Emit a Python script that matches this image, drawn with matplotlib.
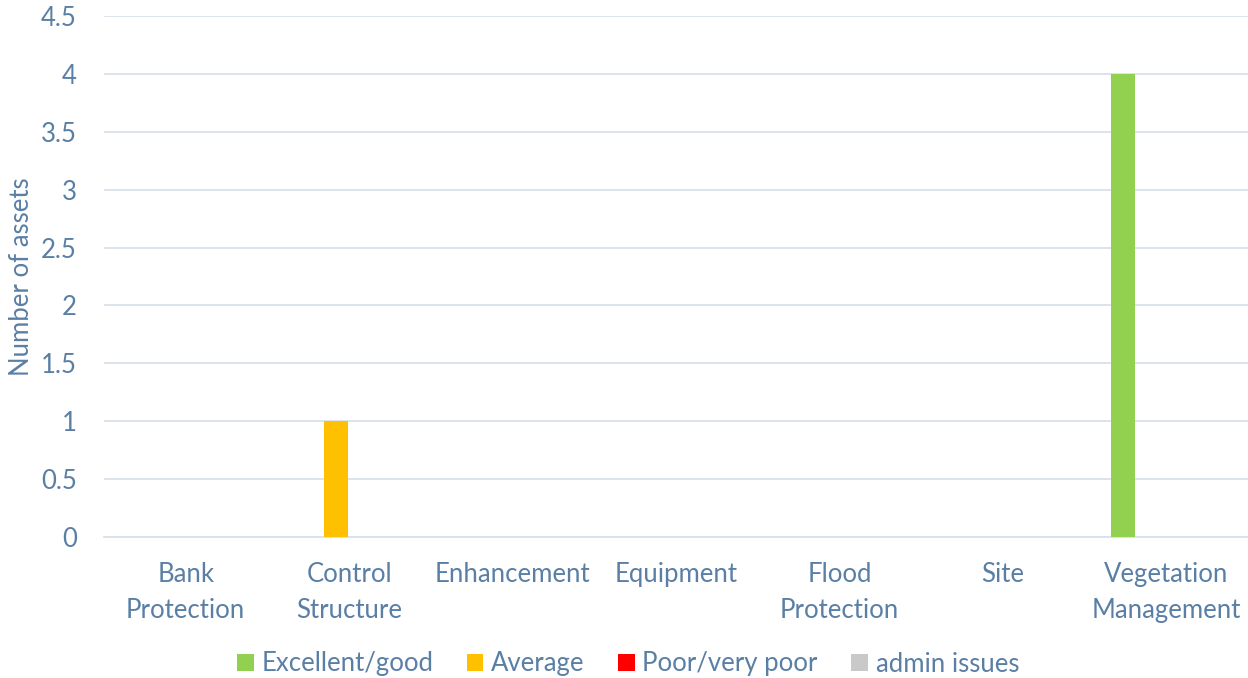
import matplotlib
matplotlib.use('Agg')
import matplotlib.pyplot as plt
import numpy as np

categories = ['Bank\nProtection', 'Control\nStructure', 'Enhancement', 'Equipment',
              'Flood\nProtection', 'Site', 'Vegetation\nManagement']
series_names = ['Excellent/good', 'Average', 'Poor/very poor', 'admin issues']
excellent = [0, 0, 0, 0, 0, 0, 4]
average = [0, 1, 0, 0, 0, 0, 0]
poor = [0, 0, 0, 0, 0, 0, 0]
admin = [0, 0, 0, 0, 0, 0, 0]
colors = ['#92D050', '#FFC000', '#FF0000', '#C9C9C9']

txt = '#5A7FA5'
plt.rcParams['font.family'] = ['Lato', 'DejaVu Sans']

fig = plt.figure(figsize=(12.48, 6.78), dpi=100)
ax = fig.add_axes([104/1248, 1-537/678, 1-104/1248, (537-16)/678])

x = np.arange(len(categories))
slot = 0.1836
width = 0.147
for i, (vals, name) in enumerate(zip([excellent, average, poor, admin], series_names)):
    ax.bar(x + (i - 1.5)*slot + 0.01, vals, width, color=colors[i], label=name, zorder=3)

ax.set_xlim(-0.5, len(categories)-0.5)
ax.set_ylim(0, 4.5)
ax.set_yticks(np.arange(0, 4.51, 0.5))
ax.set_yticklabels(['0', '0.5', '1', '1.5', '2', '2.5', '3', '3.5', '4', '4.5'])
ax.yaxis.grid(True, color='#D9E1EA', linewidth=1.3, zorder=0)
ax.set_xticks(x)
ax.set_xticklabels(categories, linespacing=1.55)
for s in ax.spines.values():
    s.set_visible(False)
ax.spines['bottom'].set_visible(True)
ax.spines['bottom'].set_color('#D9E1EA')
ax.spines['bottom'].set_linewidth(1.3)
ax.tick_params(axis='both', length=0, colors=txt, labelsize=18.5)
ax.tick_params(axis='y', pad=19.5)
ax.tick_params(axis='x', pad=18)
ax.set_ylabel('Number of assets', color=txt, fontsize=18.5)
ax.yaxis.set_label_coords(-0.061, 0.5)

fig.legend(loc='center', bbox_to_anchor=(628/1248, 1-664/678), ncol=4, frameon=False,
           fontsize=18.5, labelcolor=txt, handlelength=0.65, handleheight=0.65,
           handletextpad=0.3, columnspacing=1.3)

fig.savefig('out.png', dpi=100)
